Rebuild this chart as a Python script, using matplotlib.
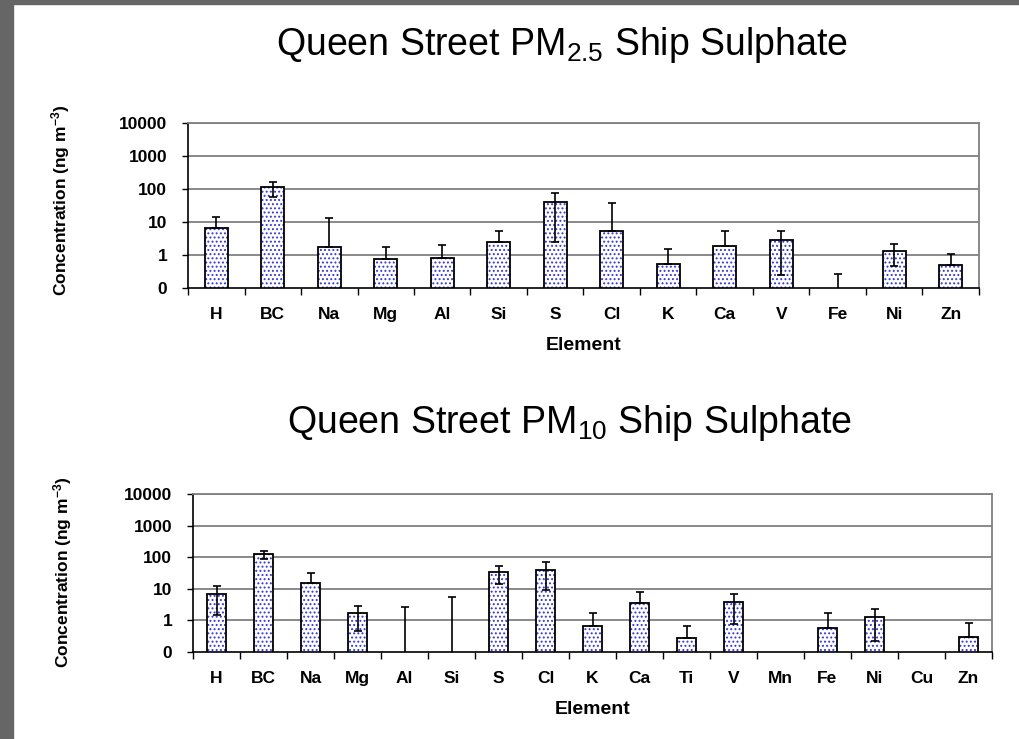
import matplotlib
matplotlib.use("Agg")
import matplotlib.pyplot as plt
import numpy as np
from matplotlib.ticker import FixedLocator, FixedFormatter, NullLocator
from matplotlib.patches import Rectangle

plt.rcParams['font.family'] = ['Liberation Sans', 'DejaVu Sans']
plt.rcParams['mathtext.fontset'] = 'custom'
plt.rcParams['mathtext.rm'] = 'Liberation Sans'
plt.rcParams['mathtext.it'] = 'Liberation Sans:italic'
plt.rcParams['mathtext.bf'] = 'Liberation Sans:bold'
plt.rcParams['mathtext.default'] = 'regular'
plt.rcParams['hatch.linewidth'] = 0.9

# ---- data ----
pm25_elements = ["H", "BC", "Na", "Mg", "Al", "Si", "S", "Cl", "K", "Ca", "V", "Fe", "Ni", "Zn"]
pm25_values = [6.6, 112, 1.75, 0.76, 0.83, 2.48, 40, 5.3, 0.52, 1.92, 2.78, 0.0, 1.32, 0.50]
pm25_errors = [7.9, 55, 11.5, 1.03, 1.18, 2.7, 37.5, 32.4, 1.03, 3.3, 2.53, 0.27, 0.85, 0.57]

pm10_elements = ["H", "BC", "Na", "Mg", "Al", "Si", "S", "Cl", "K", "Ca", "Ti", "V", "Mn", "Fe", "Ni", "Cu", "Zn"]
pm10_values = [7.1, 124, 15.1, 1.7, 0.0, 0.0, 32.8, 38.8, 0.66, 3.6, 0.28, 3.7, 0.0, 0.59, 1.27, 0.0, 0.30]
pm10_errors = [5.6, 36, 16, 1.25, 2.64, 5.6, 19, 29.5, 1.09, 4.05, 0.37, 2.95, 0.0, 1.16, 1.04, 0.0, 0.5]

ytick_values = [0.1, 1, 10, 100, 1000, 10000]
ytick_labels = ["0", "1", "10", "100", "1000", "10000"]

titles = [r"Queen Street PM$_{2.5}$ Ship Sulphate", r"Queen Street PM$_{10}$ Ship Sulphate"]
ylabel = r"Concentration (ng m$^{\mathbf{-3}}$)"
xlabel = "Element"

W, H = 1019, 739
fig = plt.figure(figsize=(W / 100, H / 100), dpi=100)

# grey slide frame
fig.patches.append(Rectangle((0, 0), 13 / W, 1, transform=fig.transFigure, color="#666666", zorder=0))
fig.patches.append(Rectangle((0, 1 - 4 / H), 1, 4 / H, transform=fig.transFigure, color="#666666", zorder=0))


def px_axes(l, t, r, b):
    return [l / W, 1 - b / H, (r - l) / W, (b - t) / H]


def draw_panel(rect, cats, vals, errs, title, title_xy, ylab_x, ylab_y, xlab_y):
    ax = fig.add_axes(px_axes(*rect))
    x = np.arange(len(cats))
    vals = np.array(vals, dtype=float)
    errs = np.array(errs, dtype=float)
    ax.set_yscale("log")
    ax.set_ylim(0.1, 10000)
    ax.set_xlim(-0.5, len(cats) - 0.5)
    # gridlines
    for v in ytick_values[1:]:
        ax.axhline(v, color="#808080", lw=1.3, zorder=1)
    # bars: dotted fill then outline
    ax.bar(x, vals, width=0.41, color="white", edgecolor="#3535d8", hatch="....",
           linewidth=0, zorder=2)
    ax.bar(x, vals, width=0.41, fill=False, edgecolor="black", linewidth=1.3, zorder=3)
    lower = np.where(vals - errs > 0, errs, 0.0)
    ax.errorbar(x, vals, yerr=[lower, errs], fmt="none", ecolor="black",
                elinewidth=1.2, capsize=2.6, capthick=1.2, zorder=4)
    ax.yaxis.set_major_locator(FixedLocator(ytick_values))
    ax.yaxis.set_major_formatter(FixedFormatter(ytick_labels))
    ax.yaxis.set_minor_locator(NullLocator())
    ax.xaxis.set_major_locator(FixedLocator(np.arange(len(cats) + 1) - 0.5))
    ax.xaxis.set_major_formatter(FixedFormatter([""] * (len(cats) + 1)))
    ax.xaxis.set_minor_locator(FixedLocator(x))
    ax.xaxis.set_minor_formatter(FixedFormatter(cats))
    ax.tick_params(axis="x", which="major", length=5, width=1, direction="out", color="black")
    ax.tick_params(axis="x", which="minor", length=0, pad=14)
    ax.tick_params(axis="y", which="major", length=4, width=1, direction="out", pad=11)
    for lab in ax.get_xticklabels(minor=True) + ax.get_yticklabels():
        lab.set_fontsize(12.5)
        lab.set_fontweight("bold")
    for s in ["top", "right"]:
        ax.spines[s].set_color("#808080")
        ax.spines[s].set_linewidth(1.3)
    for s in ["left", "bottom"]:
        ax.spines[s].set_color("black")
        ax.spines[s].set_linewidth(1.2)
    fig.text(title_xy[0] / W, 1 - title_xy[1] / H, title, fontsize=27,
             ha="center", va="baseline")
    fig.text(ylab_x / W, 1 - ylab_y / H, ylabel, fontsize=12.5, fontweight="bold",
             rotation=90, ha="center", va="center")
    fig.text((rect[0] + rect[2]) / 2 / W, 1 - xlab_y / H, xlabel, fontsize=14,
             fontweight="bold", ha="center", va="center")
    return ax


draw_panel((188, 123, 979, 288), pm25_elements, pm25_values, pm25_errors,
           titles[0], (562, 55), 61, 200, 345)
draw_panel((193, 494, 992, 652), pm10_elements, pm10_values, pm10_errors,
           titles[1], (569, 433), 63, 572, 709)

fig.savefig("out.png", dpi=100)
